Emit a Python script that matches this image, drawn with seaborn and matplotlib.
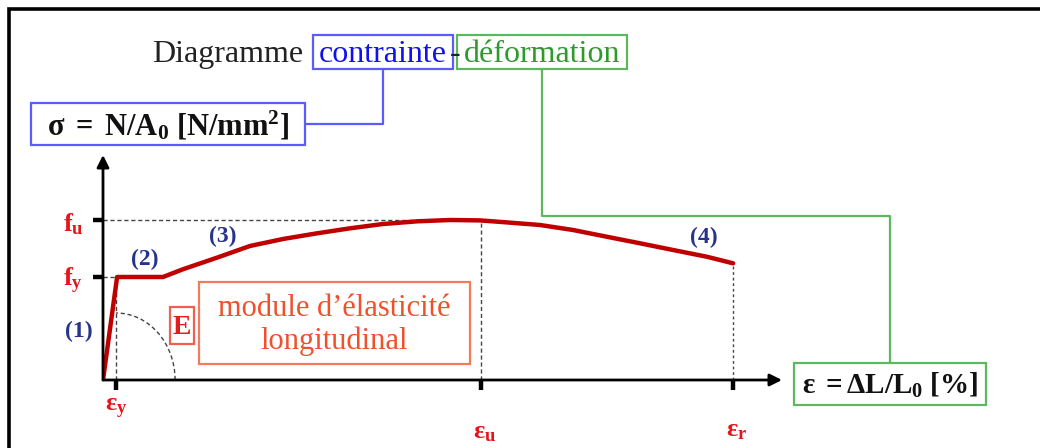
import numpy as np
import seaborn as sns
import matplotlib.pyplot as plt
from matplotlib.patches import Rectangle, Arc

# stress-strain curve (arbitrary units)
strain = [0, 0.56, 2.38, 3.17, 4.52, 5.83, 7.14, 8.49, 9.80, 11.11, 12.46,
          13.77, 14.96, 16.03, 17.34, 18.65, 20.0, 21.31, 22.62, 23.97, 25.0]
stress = [0, 257.5, 257.5, 276.8, 305.8, 335, 352.5, 366.7, 379.2, 390,
          396.7, 400, 399, 394, 387.5, 375, 358, 341.7, 325, 308, 291.7]
eps_y, eps_u, eps_r = 0.52, 15.0, 25.0
f_y, f_u = 257.5, 400.0

W, H = 1040, 448

sns.set_theme(style="white")
plt.rcParams["font.family"] = ["Liberation Serif", "DejaVu Serif"]
plt.rcParams["mathtext.fontset"] = "custom"
plt.rcParams["mathtext.rm"] = "Liberation Serif"
plt.rcParams["mathtext.bf"] = "Liberation Serif:bold"
plt.rcParams["mathtext.it"] = "Liberation Serif:italic"

fig = plt.figure(figsize=(W / 100, H / 100), dpi=100)
ax = fig.add_axes([103 / W, (H - 380) / H, (782 - 103) / W, (380 - 155) / H])
ax.set_xlim(0, 26.94)
ax.set_ylim(0, 562.5)
ax.patch.set_alpha(0)
for s in ax.spines.values():
    s.set_visible(False)


def px(x, y):
    # pixel position (top-left origin) -> figure fraction
    return (x / W, 1 - y / H)


# axes with arrows
arrow = dict(arrowstyle="-|>", lw=2, color="black", mutation_scale=18,
             shrinkA=0, shrinkB=0)
ax.annotate("", xy=(1, 0), xytext=(0, 0), xycoords="axes fraction",
            arrowprops=arrow, annotation_clip=False)
ax.annotate("", xy=(0, 1), xytext=(0, 0), xycoords="axes fraction",
            arrowprops=arrow, annotation_clip=False)

# ticks
ax.set_xticks([eps_y, eps_u, eps_r])
ax.set_yticks([f_y, f_u])
ax.set_xticklabels([])
ax.set_yticklabels([])
ax.tick_params(axis="both", length=7, width=3.2, color="black",
               direction="out", bottom=True, left=True)

# guide lines
gcol = "#444444"
dash = (0, (3, 2))
ax.plot([0, eps_u], [f_u, f_u], color=gcol, lw=1, ls=dash)
ax.plot([0, eps_y], [f_y, f_y], color=gcol, lw=1, ls=dash)
ax.plot([eps_y, eps_y], [0, f_y], color=gcol, lw=1, ls=dash)
ax.plot([eps_u, eps_u], [0, f_u], color=gcol, lw=1, ls=dash)
ax.plot([eps_r, eps_r], [0, stress[-1]], color=gcol, lw=1, ls=(0, (2, 2)))
ax.add_patch(Arc((eps_y, 0), 4.68, 335, theta1=0, theta2=90,
                 color=gcol, lw=1, ls=(0, (3, 2))))

# curve
sns.lineplot(x=strain, y=stress, sort=False, estimator=None, color="#c00000",
             lw=3.2, ax=ax)

red = "#e8141b"
navy = "#27348b"
# tick labels
for lab, (x, y) in [(r"$\mathbf{f_u}$", (73, 224)), (r"$\mathbf{f_y}$", (73, 281)),
                    (r"$\mathbf{\varepsilon_y}$", (116, 409)),
                    (r"$\mathbf{\varepsilon_u}$", (485, 433)),
                    (r"$\mathbf{\varepsilon_r}$", (737, 431))]:
    fig.text(*px(x, y), lab, color=red, fontsize=19, ha="center", va="center")

# region labels
for lab, (x, y) in [("(1)", (79, 331)), ("(2)", (145, 259)),
                    ("(3)", (223, 236)), ("(4)", (704, 237))]:
    fig.text(*px(x, y), lab, color=navy, fontsize=17, fontweight="bold",
             ha="center", va="center")


def box(x0, y0, x1, y1, color, lw=1.6):
    fig.patches.append(Rectangle(px(x0, y1), (x1 - x0) / W, (y1 - y0) / H,
                                 transform=fig.transFigure, fill=False,
                                 edgecolor=color, lw=lw))


def line(xs, ys, color, lw=1.6):
    pts = [px(x, y) for x, y in zip(xs, ys)]
    fig.add_artist(plt.Line2D([p[0] for p in pts], [p[1] for p in pts],
                              transform=fig.transFigure, color=color, lw=lw))


blue_edge = "#5b5bff"
green_edge = "#5cb85c"

# title
fig.text(*px(152, 62), "Diagramme", fontsize=23, color="#222222", va="baseline")
fig.text(*px(383, 62), "contrainte", fontsize=23, color="#1010ee",
         ha="center", va="baseline")
fig.text(*px(455, 62), "-", fontsize=23, color="#222222", ha="center",
         va="baseline")
fig.text(*px(542, 62), "déformation", fontsize=23, color="#2e9a2e",
         ha="center", va="baseline")
box(313, 35, 453, 69, blue_edge)
box(457, 35, 627, 69, green_edge)

# sigma box
box(31, 103, 305, 145, blue_edge)
line([383, 383, 305], [69, 124, 124], blue_edge)
fig.text(*px(168, 126), r"$\mathbf{\sigma\ {=}\ N/A_0\ [N/mm^2]}$", fontsize=22,
         color="#111111", ha="center", va="center")

# epsilon box
box(794, 363, 986, 405, green_edge)
line([542, 542, 890, 890], [69, 216, 216, 363], green_edge)
fig.text(*px(890, 385), r"$\mathbf{\varepsilon\ {=}\Delta L/L_0\ [\%]}$",
         fontsize=21, color="#111111", ha="center", va="center")

# E box
box(170, 307, 194, 344, "#f06050")
fig.text(*px(182, 327), "E", fontsize=20, fontweight="bold", color="#e02020",
         ha="center", va="center")

# module box
box(199, 282, 470, 364, "#f47a5e")
fig.text(*px(334, 316), "module d’élasticité", fontsize=22, color="#f0502d",
         ha="center", va="baseline")
fig.text(*px(334, 349), "longitudinal", fontsize=22, color="#f0502d",
         ha="center", va="baseline")

# outer frame (top and left edges visible)
fig.patches.append(Rectangle((9 / W, -0.1), 1.2, 1.1 - 9 / H,
                             transform=fig.transFigure, fill=False,
                             edgecolor="black", lw=2.6))

fig.savefig("out.png", dpi=100)
